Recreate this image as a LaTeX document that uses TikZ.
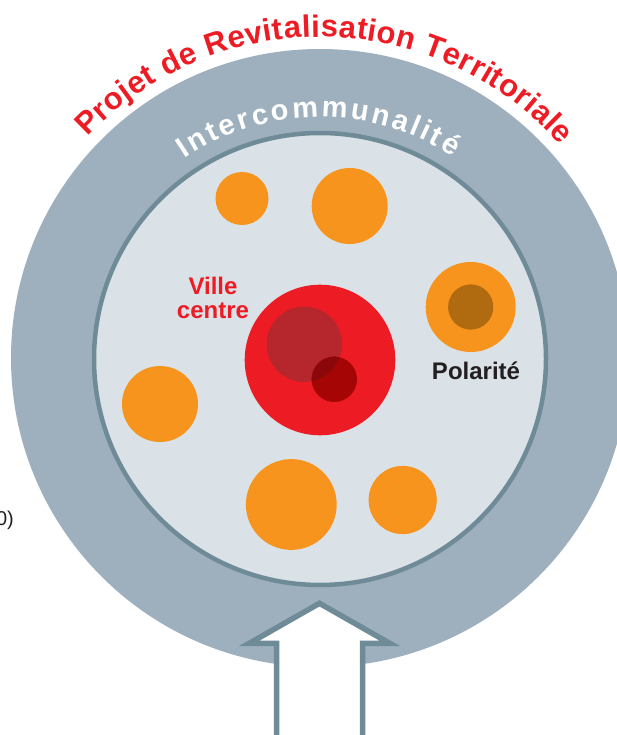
\documentclass[tikz,border=0pt]{standalone}
\usepackage{fontspec}
\setmainfont{Liberation Sans}
\usetikzlibrary{decorations.text}

\definecolor{ringgray}{HTML}{9EB0BD}
\definecolor{innergray}{HTML}{DAE1E7}
\definecolor{linegray}{HTML}{6F8B97}
\definecolor{townorange}{HTML}{F7941D}
\definecolor{centrered}{HTML}{ED1C24}
\definecolor{centredark}{HTML}{B5272D}
\definecolor{centrespot}{HTML}{A50505}
\definecolor{centredeep}{HTML}{8B0709}
\definecolor{polebrown}{HTML}{B06B10}
\definecolor{labelblack}{HTML}{231F20}

\begin{document}
\begin{tikzpicture}[x=1pt, y=1pt,
    town/.style={fill=townorange},
    tag/.style={font=\fontsize{24}{24}\selectfont\bfseries, inner sep=0pt}]
    \useasboundingbox (0,0) rectangle (617,-735);
    \clip (0,0) rectangle (617,-735);

    % ring and inner disc
    \fill[ringgray] (320,-358) circle (309);
    \filldraw[fill=innergray, draw=linegray, line width=4.5pt] (320,-359) circle (226);

    \path[decorate, decoration={text along path, text align={fit to path},
        text={|\fontsize{31}{31}\selectfont\bfseries\color{centrered}|Projet de Revitalisation Territoriale}}]
      (320,-358) ++(136.5:321) arc (136.5:41.5:321);
    \path[decorate, decoration={text along path, text align={fit to path},
        text={|\fontsize{29}{29}\selectfont\bfseries\color{white}|Intercommunalité}}]
      (320,-358) ++(124.2:241) arc (124.2:56.6:241);

    % towns
    \fill[town] (242,-198.5) circle (26.5);
    \fill[town] (349.7,-206) circle (38);
    \fill[town] (160,-404) circle (38);
    \fill[town] (291.3,-504.5) circle (45.4);
    \fill[town] (402.7,-500) circle (34.1);

    % polarite
    \fill[town] (470.7,-307) circle (45);
    \fill[polebrown] (470.7,-307) circle (22.6);

    % ville centre
    \fill[centrered] (320,-360) circle (75.3);
    \fill[centredark] (304.3,-344.3) circle (37.7);
    \fill[centrespot] (334.3,-379.3) circle (22.7);
    \begin{scope}
      \clip (304.3,-344.3) circle (37.7);
      \fill[centredeep] (334.3,-379.3) circle (22.7);
    \end{scope}

    \node[tag, text=centrered, align=center] (ville) at (213,-297.5) {Ville\\centre};
    \node[tag, text=labelblack, anchor=base] (polarite) at (476,-379) {Polarité};
    \node[font=\fontsize{20}{20}\selectfont, text=labelblack, anchor=base east, inner sep=0pt] (cut) at (14,-525) {0)};

    % arrow
    \filldraw[fill=white, draw=linegray, line width=5.5pt, line join=miter]
      (276.7,-745) -- (276.7,-643.3) -- (249.3,-643.3) -- (319.5,-603.3)
      -- (389.7,-643.3) -- (362.5,-643.3) -- (362.5,-745);
\end{tikzpicture}
\end{document}
